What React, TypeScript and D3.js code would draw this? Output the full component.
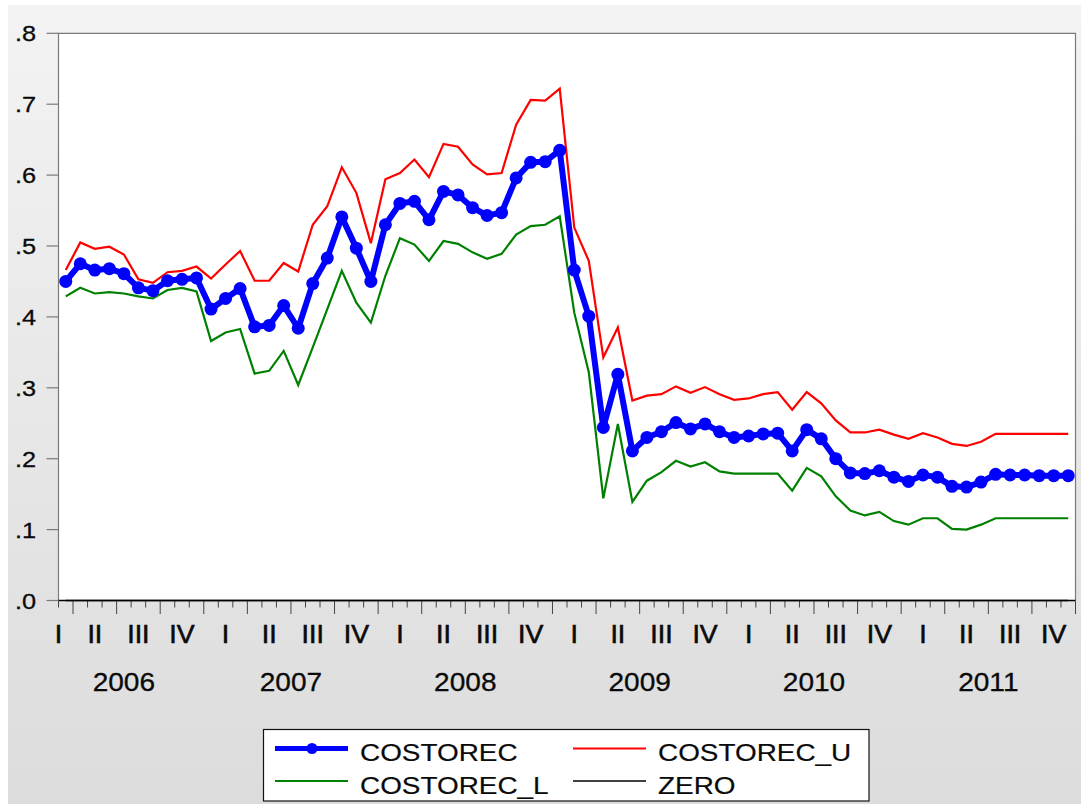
import React from "react";
import * as d3 from "d3";

// Monthly observations, March 2006 – December 2011
const START = new Date(2006, 2, 1);
const N_OBS = 70;
const periods: Date[] = d3.range(N_OBS).map((i) => d3.timeMonth.offset(START, i));

const costorec = [
  0.45, 0.475, 0.466, 0.468, 0.461, 0.441, 0.437, 0.451, 0.453, 0.455,
  0.411, 0.426, 0.44, 0.386, 0.388, 0.416, 0.384, 0.447, 0.483, 0.541,
  0.497, 0.45, 0.53, 0.56, 0.563, 0.537, 0.577, 0.572, 0.554, 0.543,
  0.547, 0.596, 0.618, 0.619, 0.635, 0.466, 0.401, 0.244, 0.319, 0.211,
  0.23, 0.238, 0.251, 0.242, 0.249, 0.238, 0.23, 0.232, 0.235, 0.236,
  0.211, 0.241, 0.228, 0.2, 0.18, 0.179, 0.183, 0.174, 0.168, 0.177,
  0.174, 0.161, 0.16, 0.167, 0.178, 0.177, 0.177, 0.176, 0.176, 0.176,
];

const costorecU = [
  0.466, 0.505, 0.496, 0.499, 0.488, 0.453, 0.448, 0.463, 0.465, 0.471,
  0.454, 0.474, 0.493, 0.451, 0.451, 0.476, 0.464, 0.53, 0.556, 0.611,
  0.575, 0.504, 0.594, 0.603, 0.622, 0.597, 0.644, 0.64, 0.615, 0.601,
  0.603, 0.671, 0.706, 0.705, 0.722, 0.526, 0.479, 0.343, 0.385, 0.282,
  0.289, 0.291, 0.302, 0.293, 0.301, 0.291, 0.283, 0.285, 0.291, 0.294,
  0.269, 0.294, 0.278, 0.254, 0.237, 0.237, 0.241, 0.234, 0.228, 0.236,
  0.23, 0.221, 0.218, 0.224, 0.235, 0.235, 0.235, 0.235, 0.235, 0.235,
];

const costorecL = [
  0.429, 0.441, 0.433, 0.435, 0.433, 0.429, 0.426, 0.438, 0.441, 0.436,
  0.366, 0.378, 0.383, 0.32, 0.324, 0.352, 0.304, 0.357, 0.411, 0.465,
  0.42, 0.392, 0.458, 0.511, 0.502, 0.479, 0.507, 0.503, 0.491, 0.482,
  0.489, 0.516, 0.528, 0.53, 0.542, 0.406, 0.322, 0.144, 0.249, 0.139,
  0.169, 0.181, 0.197, 0.189, 0.195, 0.182, 0.179, 0.179, 0.179, 0.179,
  0.155, 0.187, 0.175, 0.147, 0.127, 0.12, 0.125, 0.112, 0.107, 0.116,
  0.116, 0.101, 0.1, 0.107, 0.116, 0.116, 0.116, 0.116, 0.116, 0.116,
];

const zero = periods.map(() => 0);

const yTicks = [0, 0.1, 0.2, 0.3, 0.4, 0.5, 0.6, 0.7, 0.8];
const quarterNames = ["I", "II", "III", "IV"];

const legendItems = [
  { name: "COSTOREC", color: "#0000ff", width: 5, marker: true, col: 0, row: 0 },
  { name: "COSTOREC_U", color: "#ff0000", width: 2, marker: false, col: 1, row: 0 },
  { name: "COSTOREC_L", color: "#008000", width: 2, marker: false, col: 0, row: 1 },
  { name: "ZERO", color: "#000000", width: 1.5, marker: false, col: 1, row: 1 },
];

const W = 1081;
const H = 804;
const FONT = "'Liberation Sans', Arial, Helvetica, sans-serif";
const TEXT = "#0a0a0a";

const plot = { left: 58.5, right: 1075.5, top: 33.3, bottom: 600.5 };

export default function App() {
  // x: month-slot boundaries 0..N_OBS ; observations sit in the middle of their slot
  const x = d3.scaleLinear().domain([0, N_OBS]).range([plot.left, plot.right]);
  const y = d3.scaleLinear().domain([0, 0.8]).range([plot.bottom, plot.top]);
  const xi = (i: number) => x(i + 0.5);

  const line = d3
    .line<number>()
    .x((_, i) => xi(i))
    .y((d) => y(d));

  const fmt = (v: number) => d3.format(".1f")(v).replace(/^0/, "");

  // month index (0 = Jan) of slot k
  const monthOf = (k: number) => (START.getMonth() + k) % 12;

  const slotTicks = d3.range(0, N_OBS + 1);
  const isQuarterStart = (k: number) => monthOf(k) % 3 === 0;

  // quarters and years that appear on the axis
  const firstQuarterSlot = -(START.getMonth() % 3);
  const quarters = d3.range(firstQuarterSlot, N_OBS, 3).map((s) => ({
    start: s,
    label: quarterNames[Math.floor(monthOf(((s % 12) + 12) % 12) / 3)],
  }));
  const firstYearSlot = -START.getMonth();
  const years = d3.range(firstYearSlot, N_OBS, 12).map((s, j) => ({
    start: s,
    label: String(START.getFullYear() + j),
  }));
  const clipCenter = (a: number, b: number) =>
    x((Math.max(a, -1) + Math.min(b, N_OBS)) / 2);

  const legend = { x: 263.5, y: 729.5, w: 605.5, h: 71.5 };
  const colX = [275, 573];
  const rowY = [748.5, 781];

  return (
    <div style={{ position: "absolute", left: 0, top: 0 }}>
      <svg width={W} height={H} style={{ display: "block" }}>
        <defs>
          <linearGradient id="bg" x1="0" y1="0" x2="0" y2="1">
            <stop offset="0" stopColor="#f3f3f3" />
            <stop offset="1" stopColor="#dcdcdc" />
          </linearGradient>
        </defs>
        <rect x={0} y={0} width={W} height={H} fill="#ffffff" />
        <rect x={8} y={5} width={W - 8} height={H - 5} fill="url(#bg)" />

        {/* plot area */}
        <rect
          x={plot.left}
          y={plot.top}
          width={plot.right - plot.left}
          height={plot.bottom - plot.top}
          fill="#ffffff"
        />
        <path
          d={`M${plot.left},${plot.bottom}V${plot.top}H${plot.right}V${plot.bottom}`}
          fill="none"
          stroke="#7a7a7a"
          strokeWidth={1.2}
        />

        {/* y axis */}
        {yTicks.map((t) => (
          <g key={t}>
            <line
              x1={46.5}
              x2={plot.left}
              y1={y(t)}
              y2={y(t)}
              stroke="#7a7a7a"
              strokeWidth={1.2}
            />
            <text
              transform={`translate(36,${y(t) + 8}) scale(1.15,1)`}
              textAnchor="end"
              fontFamily={FONT}
              fontSize={22}
              fill={TEXT}
              stroke={TEXT}
              strokeWidth={0.3}
            >
              {fmt(t)}
            </text>
          </g>
        ))}

        {/* x axis */}
        <line
          x1={plot.left}
          x2={plot.right}
          y1={plot.bottom}
          y2={plot.bottom}
          stroke="#000"
          strokeWidth={1.5}
        />
        {slotTicks.map((k) => (
          <line
            key={k}
            x1={x(k)}
            x2={x(k)}
            y1={plot.bottom}
            y2={plot.bottom + (isQuarterStart(k) ? 13.5 : 7)}
            stroke="#444"
            strokeWidth={1}
          />
        ))}
        {quarters.map((q) => (
          <text
            key={q.start}
            transform={`translate(${clipCenter(q.start, q.start + 3)},642.5) scale(1.05,1)`}
            textAnchor="middle"
            fontFamily={FONT}
            fontSize={25.5}
            fill={TEXT}
            stroke={TEXT}
            strokeWidth={0.6}
          >
            {q.label}
          </text>
        ))}
        {years.map((yr) => (
          <text
            key={yr.label}
            transform={`translate(${clipCenter(yr.start, yr.start + 12)},690.5) scale(1.1,1)`}
            textAnchor="middle"
            fontFamily={FONT}
            fontSize={25.5}
            fill={TEXT}
            stroke={TEXT}
            strokeWidth={0.3}
          >
            {yr.label}
          </text>
        ))}

        {/* series */}
        <path
          d={line(zero) ?? ""}
          stroke="#000"
          strokeWidth={1.5}
          fill="none"
        />
        <path d={line(costorecL) ?? ""} fill="none" stroke="#008000" strokeWidth={2.2} />
        <path d={line(costorecU) ?? ""} fill="none" stroke="#ff0000" strokeWidth={2.2} />
        <path
          d={line(costorec) ?? ""}
          fill="none"
          stroke="#0000ff"
          strokeWidth={6}
          strokeLinejoin="round"
        />
        {costorec.map((v, i) => (
          <circle key={i} cx={xi(i)} cy={y(v)} r={6.5} fill="#0000ff" />
        ))}

        {/* legend */}
        <rect
          x={legend.x}
          y={legend.y}
          width={legend.w}
          height={legend.h}
          fill="#ffffff"
          stroke="#111"
          strokeWidth={1.2}
        />
        {legendItems.map((it) => {
          const x0 = colX[it.col];
          const yy = rowY[it.row];
          return (
            <g key={it.name}>
              <line
                x1={x0}
                x2={x0 + 73}
                y1={yy}
                y2={yy}
                stroke={it.color}
                strokeWidth={it.width}
              />
              {it.marker && <circle cx={x0 + 37} cy={yy} r={5.5} fill={it.color} />}
              <text
                transform={`translate(${x0 + 85},${yy + 12.5}) scale(1.13,1)`}
                fontFamily={FONT}
                fontSize={24.7}
                fill={TEXT}
                stroke={TEXT}
                strokeWidth={0.2}
              >
                {it.name}
              </text>
            </g>
          );
        })}
      </svg>
    </div>
  );
}
